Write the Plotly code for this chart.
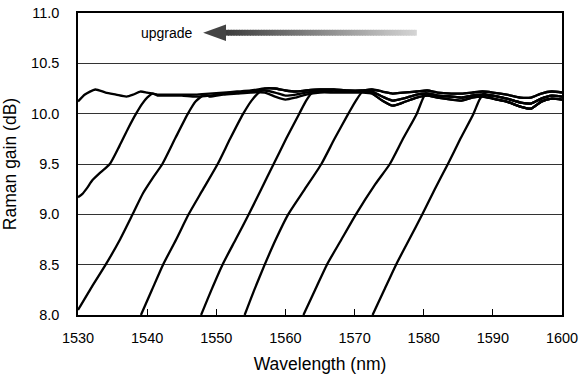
import plotly.graph_objects as go

# ---------------- data ----------------
# shared flat-top gain profiles (wavelength nm, gain dB)
flat_wl = [1530, 1531, 1532.5, 1534, 1535.5, 1537, 1538, 1539, 1540, 1541.5, 1543, 1545, 1547, 1549,
           1551, 1553, 1555, 1557, 1558.5, 1560, 1561.5, 1563, 1565, 1567, 1569, 1571, 1572.5, 1574,
           1575.5, 1577, 1579, 1580.5, 1582, 1584, 1585.5, 1587, 1588.5, 1590, 1592, 1594, 1595.5,
           1597, 1598.5, 1600]
flat_hi = [10.12, 10.19, 10.24, 10.21, 10.19, 10.17, 10.19, 10.22, 10.21, 10.19, 10.19, 10.19, 10.19, 10.20,
           10.21, 10.22, 10.23, 10.25, 10.25, 10.23, 10.22, 10.23, 10.24, 10.24, 10.23, 10.23, 10.24, 10.22,
           10.20, 10.21, 10.22, 10.23, 10.21, 10.20, 10.20, 10.21, 10.22, 10.21, 10.19, 10.16, 10.16,
           10.20, 10.22, 10.21]
flat_mid = [10.12, 10.19, 10.24, 10.21, 10.19, 10.17, 10.19, 10.22, 10.20, 10.18, 10.18, 10.18, 10.17, 10.18,
            10.20, 10.21, 10.22, 10.23, 10.21, 10.18, 10.19, 10.21, 10.22, 10.23, 10.22, 10.22, 10.22, 10.17,
            10.13, 10.15, 10.19, 10.20, 10.18, 10.17, 10.16, 10.18, 10.19, 10.18, 10.15, 10.11, 10.10,
            10.15, 10.18, 10.17]
flat_lo = [10.12, 10.19, 10.24, 10.21, 10.19, 10.17, 10.19, 10.22, 10.20, 10.17, 10.17, 10.17, 10.16, 10.17,
           10.19, 10.20, 10.21, 10.21, 10.17, 10.14, 10.16, 10.19, 10.21, 10.21, 10.21, 10.21, 10.20, 10.13,
           10.08, 10.11, 10.16, 10.18, 10.16, 10.14, 10.13, 10.16, 10.17, 10.15, 10.12, 10.07, 10.05,
           10.12, 10.15, 10.14]

# rising edges of the successive gain spectra
rise_wl_A = []
rise_g_A = []
rise_wl_B = [1530.0, 1530.6, 1531.3, 1532.1, 1533.3, 1534.6, 1536.0, 1537.3, 1538.4, 1539.3, 1540.0, 1540.8]
rise_g_B = [9.17, 9.20, 9.26, 9.34, 9.42, 9.50, 9.68, 9.86, 10.00, 10.10, 10.16, 10.20]
rise_wl_C = [1530.0, 1532.0, 1534.0, 1536.0, 1537.9, 1539.4, 1540.8, 1542.2, 1544.1, 1545.9, 1547.0, 1548.3]
rise_g_C = [8.05, 8.28, 8.50, 8.74, 9.00, 9.21, 9.36, 9.50, 9.76, 10.00, 10.12, 10.19]
rise_wl_D = [1539.1, 1540.7, 1542.3, 1544.2, 1546.0, 1548.1, 1550.2, 1552.0, 1553.9, 1555.1, 1556.3]
rise_g_D = [8.00, 8.25, 8.50, 8.75, 9.00, 9.25, 9.50, 9.75, 10.00, 10.13, 10.22]
rise_wl_E = [1547.8, 1549.3, 1550.9, 1552.8, 1554.7, 1556.5, 1558.3, 1560.1, 1562.0, 1563.0, 1563.9]
rise_g_E = [8.00, 8.25, 8.50, 8.75, 9.00, 9.25, 9.50, 9.75, 10.00, 10.13, 10.21]
rise_wl_F = [1554.1, 1555.5, 1557.0, 1558.6, 1560.4, 1562.8, 1565.2, 1567.1, 1569.1, 1570.2, 1571.2]
rise_g_F = [8.00, 8.25, 8.50, 8.75, 9.00, 9.25, 9.50, 9.75, 10.00, 10.13, 10.22]
rise_wl_G = [1562.6, 1564.3, 1566.0, 1568.1, 1570.2, 1573.0, 1575.1, 1577.0, 1579.0, 1579.7, 1580.3]
rise_g_G = [8.00, 8.25, 8.50, 8.75, 9.00, 9.30, 9.50, 9.75, 10.00, 10.12, 10.20]
rise_wl_H = [1572.6, 1574.3, 1576.0, 1577.9, 1579.8, 1581.6, 1583.5, 1585.3, 1587.2, 1588.0, 1588.7]
rise_g_H = [8.00, 8.25, 8.50, 8.75, 9.00, 9.25, 9.50, 9.75, 10.00, 10.13, 10.20]

curves = [
    (rise_wl_A, rise_g_A, flat_hi),
    (rise_wl_B, rise_g_B, flat_mid),
    (rise_wl_C, rise_g_C, flat_lo),
    (rise_wl_D, rise_g_D, flat_hi),
    (rise_wl_E, rise_g_E, flat_mid),
    (rise_wl_F, rise_g_F, flat_lo),
    (rise_wl_G, rise_g_G, flat_mid),
    (rise_wl_H, rise_g_H, flat_lo),
]

x_ticks = [1530, 1540, 1550, 1560, 1570, 1580, 1590, 1600]
y_ticks = [8.0, 8.5, 9.0, 9.5, 10.0, 10.5, 11.0]

# "upgrade" arrow annotation parameters (data units)
arrow_tip_x, arrow_head_x, arrow_tail_x = 1548.1, 1551.3, 1579.0
arrow_y, arrow_head_half, arrow_shaft_half = 10.804, 0.083, 0.029

FONT = "Liberation Sans, Arial, Helvetica, sans-serif"

fig = go.Figure()
for wl, g, flat in curves:
    start = wl[-1] + 0.3 if wl else -1
    xs = list(wl) + [w for w in flat_wl if w > start]
    ys = list(g) + [v for w, v in zip(flat_wl, flat) if w > start]
    fig.add_trace(go.Scatter(x=xs, y=ys, mode="lines",
                             line=dict(color="black", width=2.3, shape="spline", smoothing=0.6),
                             showlegend=False, hoverinfo="skip"))

shapes = []
n = 70
for i in range(n):
    x0 = arrow_head_x + (arrow_tail_x - arrow_head_x) * i / n
    x1 = arrow_head_x + (arrow_tail_x - arrow_head_x) * (i + 1) / n + 0.15
    if i == n - 1:
        x1 = arrow_tail_x
    t = i / (n - 1)
    c = int(62 + (212 - 62) * t)
    shapes.append(dict(type="rect", xref="x", yref="y", x0=x0, x1=x1,
                       y0=arrow_y - arrow_shaft_half, y1=arrow_y + arrow_shaft_half,
                       fillcolor=f"rgb({c},{c},{c})", line=dict(width=0), layer="above"))
shapes.append(dict(type="path", xref="x", yref="y",
                   path=(f"M {arrow_tip_x},{arrow_y} L {arrow_head_x + 0.1},{arrow_y + arrow_head_half} "
                         f"L {arrow_head_x + 0.1},{arrow_y - arrow_head_half} Z"),
                   fillcolor="#444444", line=dict(width=0), layer="above"))

fig.update_layout(
    width=580, height=376,
    margin=dict(l=78, r=18, t=13, b=61),
    paper_bgcolor="white", plot_bgcolor="white",
    font=dict(family=FONT, color="black", size=14),
    shapes=shapes,
    annotations=[dict(x=1546.9, y=arrow_y, xref="x", yref="y", text="upgrade",
                      showarrow=False, xanchor="right", yanchor="middle",
                      font=dict(family=FONT, size=14, color="black"))],
)
fig.update_xaxes(range=[1530, 1600], tickvals=x_ticks, ticktext=[str(v) for v in x_ticks],
                 ticks="inside", ticklen=6, tickwidth=1, tickcolor="black",
                 showline=True, mirror=True, linecolor="black", linewidth=1.5,
                 showgrid=False, zeroline=False, automargin=False,
                 tickfont=dict(size=14.5), ticklabelstandoff=9,
                 title=dict(text="Wavelength (nm)", font=dict(size=17.5), standoff=13))
fig.update_yaxes(range=[8.0, 11.0], tickvals=y_ticks, ticktext=[f"{v:.1f}" for v in y_ticks],
                 ticks="", showline=True, mirror=True, linecolor="black", linewidth=1.5,
                 showgrid=True, gridcolor="#333333", gridwidth=1, zeroline=False, automargin=False,
                 tickfont=dict(size=14.5), ticklabelstandoff=14,
                 title=dict(text="Raman gain (dB)", font=dict(size=17.5), standoff=10))

fig.write_html("out.html")
